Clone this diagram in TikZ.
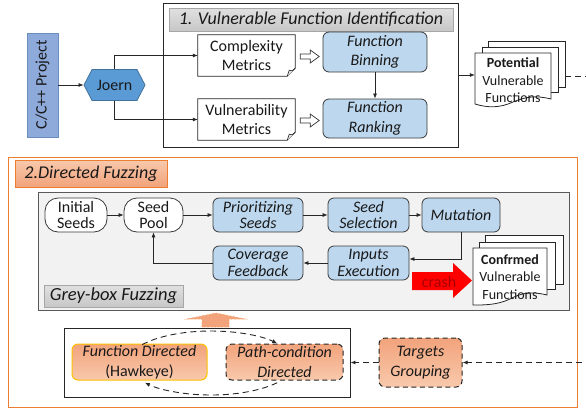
\documentclass[tikz,border=0pt]{standalone}
\usepackage{graphicx}
\usepackage{fontspec}
\setmainfont{Carlito}
\usetikzlibrary{arrows.meta,calc,shapes.symbols}

\definecolor{projfill}{HTML}{8EAADB}
\definecolor{projline}{HTML}{6C8EBF}
\definecolor{joernfill}{HTML}{5B9BD5}
\definecolor{joernline}{HTML}{41719C}
\definecolor{procfill}{HTML}{BDD7EE}
\definecolor{inkline}{HTML}{3A3A3A}
\definecolor{orangeline}{HTML}{ED7D31}
\definecolor{salmonA}{HTML}{F2A37B}
\definecolor{salmonB}{HTML}{F8C9AC}
\definecolor{goldline}{HTML}{FFC000}
\definecolor{greyarea}{HTML}{F2F2F2}
\definecolor{crashred}{HTML}{FF0000}
\definecolor{crashtext}{HTML}{A80000}

\begin{document}
\begin{tikzpicture}[x=1pt,y=-1pt,
  base/.style={align=center, inner sep=0pt, text=black!90, font=\fontsize{16}{19.5}\selectfont},
  project/.style={base, draw=projline, fill=projfill, line width=0.8pt, minimum width=31pt, minimum height=104pt},
  hexnode/.style={base, shape=signal, signal to=east and west, signal pointer angle=125,
    draw=joernline, fill=joernfill, line width=0.8pt, minimum width=61pt, minimum height=31pt},
  frame/.style={draw=black!85, line width=0.9pt, fill=white},
  titlebar/.style={base, draw=black!35, top color=black!12, bottom color=black!22, line width=0.6pt,
    font=\fontsize{18}{20}\selectfont\itshape},
  metricdoc/.style={base, minimum width=97pt, minimum height=41pt},
  procbox/.style={base, draw=inkline, fill=procfill, rounded corners=6pt, line width=0.8pt,
    font=\fontsize{16}{19.5}\selectfont\itshape},
  fuzzbox/.style={procbox, minimum height=34pt, font=\fontsize{16}{16.5}\selectfont\itshape},
  stadium/.style={base, draw=inkline, fill=white, rounded corners=13pt, line width=0.8pt,
    minimum height=34pt, font=\fontsize{16}{16.5}\selectfont},
  flow/.style={-{Latex[length=5pt,width=4pt]}, line width=0.7pt, draw=black!85},
  stackdoc/.style={base, font=\fontsize{14}{17.5}\selectfont},
  docline/.style={draw=black!85, line width=0.8pt, fill=white},
  hollow/.style={draw=black!80, line width=0.7pt, fill=white},
  strategy/.style={base, top color=salmonA, bottom color=salmonB, rounded corners=6pt,
    line width=1pt, minimum height=36pt},
  dashedge/.style={dash pattern=on 5pt off 3.5pt},
  dashflow/.style={flow, dash pattern=on 6pt off 4pt, line width=0.9pt},
]
\useasboundingbox (0,0) rectangle (586,408);

% ---------- Stage 1: vulnerable function identification ----------
\node[project] (proj) at (42.5,85) {\rotatebox{90}{C/C++ Project}};
\node[hexnode] (joern) at (114.5,85) {Joern};
\node[frame, minimum width=295pt, minimum height=144pt] (sec1) at (310.5,75) {};
\node[titlebar, minimum width=284pt, minimum height=23pt] (sec1title) at (311,19.5)
  {1. Vulnerable Function Identification};

\node[metricdoc] (cm) at (246.5,55.5) {Complexity\\Metrics};
\node[metricdoc] (vm) at (246.5,119.5) {Vulnerability\\Metrics};
\foreach \d in {cm,vm} {
  \draw[docline, fill=none] (\d.north west) -- (\d.north east) -- ($(\d.south east)+(0,-8)$)
    -- ($(\d.south east)+(-8,0)$) -- (\d.south west) -- cycle;
  \draw[draw=black!85, line width=0.6pt, fill=black!10] ($(\d.south east)+(0,-8)$)
    .. controls ($(\d.south east)+(-3,-5)$) .. ($(\d.south east)+(-6,-6)$) -- ($(\d.south east)+(-8,0)$);
  \draw[hollow] ($(\d.east)+(5,-1.5)$) -- ++(10,0) -- ++(0,-4) -- ($(\d.east)+(24,1)$)
    -- ($(\d.east)+(15,7.5)$) -- ++(0,-4) -- ($(\d.east)+(5,3.5)$) -- cycle;
}

\node[procbox, minimum width=104pt, minimum height=40pt] (fb) at (375,52) {Function\\Binning};
\node[procbox, minimum width=104pt, minimum height=39pt] (fr) at (375,118.5) {Function\\Ranking};

\draw[flow] (proj.east) -- (joern.west);
\draw[flow] (joern.north) |- (cm.west);
\draw[flow] (joern.south) |- (vm.west);
\draw[flow] (fb.south) -- (fr.north);

% stacked pages of potential vulnerable functions
\begin{scope}[shift={(513,80.5)}]
  \draw[docline] (-25,-39.5) rectangle (52,6.5);
  \draw[docline] (-31,-33.5) rectangle (45,11.5);
  \draw[docline] (-38,-27.5) -- (38,-27.5) -- (38,18.5) .. controls (22,14.5) and (12,16.5) .. (0,21.5)
    .. controls (-13,27.5) and (-25,27.5) .. (-38,23.5) -- cycle;
\end{scope}
\node[stackdoc, minimum width=76pt, minimum height=52pt] (pot) at (513,80.5)
  {\textbf{Potential}\\Vulnerable\\Functions};
\draw[flow] (sec1.east) -- (sec1.east -| pot.west);

% ---------- Stage 2: directed fuzzing ----------
\node[draw=orangeline, line width=1pt, minimum width=569pt, minimum height=250pt] (sec2) at (292.5,282) {};
\node[base, draw=orangeline, top color=salmonB, bottom color=salmonA, line width=0.8pt,
  minimum width=152pt, minimum height=27pt, font=\fontsize{18}{20}\selectfont\itshape]
  (sec2title) at (91,173.5) {2.Directed Fuzzing};

\node[draw=black!65, fill=greyarea, line width=1pt, minimum width=531pt, minimum height=118pt] (gbf) at (303.5,251) {};
\node[titlebar, minimum width=139pt, minimum height=22pt, font=\fontsize{18.5}{20}\selectfont\itshape]
  (gbflabel) at (113.5,296) {Grey-box Fuzzing};

\node[stadium, minimum width=62pt] (is) at (76,215) {Initial\\Seeds};
\node[stadium, minimum width=59pt] (sp) at (153.5,215) {Seed\\Pool};
\node[fuzzbox, minimum width=90pt] (ps) at (258,215) {Prioritizing\\Seeds};
\node[fuzzbox, minimum width=81pt] (ss) at (368.5,215) {Seed\\Selection};
\node[fuzzbox, minimum width=78pt] (mu) at (461,215) {Mutation};
\node[fuzzbox, minimum width=90pt] (cf) at (258,263) {Coverage\\Feedback};
\node[fuzzbox, minimum width=81pt] (ie) at (368.5,263) {Inputs\\Execution};

\draw[flow] (is.east) -- (sp.west);
\draw[flow] (sp.east) -- (ps.west);
\draw[flow] (ps.east) -- (ss.west);
\draw[flow] (ss.east) -- (mu.west);
\draw[flow] (mu.south) |- ($(ie.east)+(0,-4)$);
\draw[flow] (ie.west) -- (cf.east);
\draw[flow] (cf.west) -| (sp.south);

% crash block arrow
\draw[fill=crashred, draw=none] (412,272) -- (453,272) -- (453,263) -- (472,280.5)
  -- (453,298) -- (453,290) -- (412,290) -- cycle;
\node[base, text=crashtext] (crash) at (439,281.5) {crash};

% stacked pages of confirmed vulnerable functions
\begin{scope}[shift={(510,277)}]
  \draw[docline] (-25,-42) rectangle (53,7);
  \draw[docline] (-31,-35) rectangle (45,12);
  \draw[docline] (-37,-29) -- (37,-29) -- (37,18) .. controls (21,14) and (11,16) .. (0,22)
    .. controls (-13,28) and (-25,28) .. (-37,28) -- cycle;
\end{scope}
\node[stackdoc, minimum width=74pt, minimum height=57pt] (cv) at (510,277)
  {\textbf{Confrmed}\\Vulnerable\\Functions};

% block arrow from the strategies up into the fuzzer
\draw[fill=salmonA, draw=orangeline!70, dash pattern=on 2pt off 1.5pt, line width=0.6pt]
  (202,327) -- (202,319) -- (187,319) -- (216,313) -- (245,319) -- (229,319) -- (229,327) -- cycle;

\node[frame, minimum width=286pt, minimum height=69pt] (bb) at (207,362.5) {};
\node[strategy, draw=goldline, minimum width=135pt] (fd) at (139.5,362)
  {\textit{Function Directed}\\(Hawkeye)};
\node[strategy, draw=black!85, dashedge, minimum width=117pt, font=\fontsize{16}{19.5}\selectfont\itshape]
  (pc) at (284.5,362) {Path-condition\\Directed};
\node[strategy, draw=black!85, dashedge, minimum width=83pt, minimum height=49pt,
  font=\fontsize{16}{19.5}\selectfont\itshape] (tg) at (420.5,362.5) {Targets\\Grouping};

% switching loop between the two strategies
\coordinate (loopc) at (211,363);
\draw[dashflow] ($(loopc)+(215:84 and 32)$) arc[start angle=215, end angle=322, x radius=84, y radius=32];
\draw[dashflow] ($(loopc)+(38:84 and 32)$) arc[start angle=38, end angle=142, x radius=84, y radius=32];

\draw[dashflow] (tg.west) -- (bb.east);
\coordinate (potR) at ($(pot.center)+(52,-4.5)$);
\coordinate (offR) at (600,76);
\draw[dashflow] (potR) -- (offR) |- (tg.east);
\end{tikzpicture}
\end{document}
